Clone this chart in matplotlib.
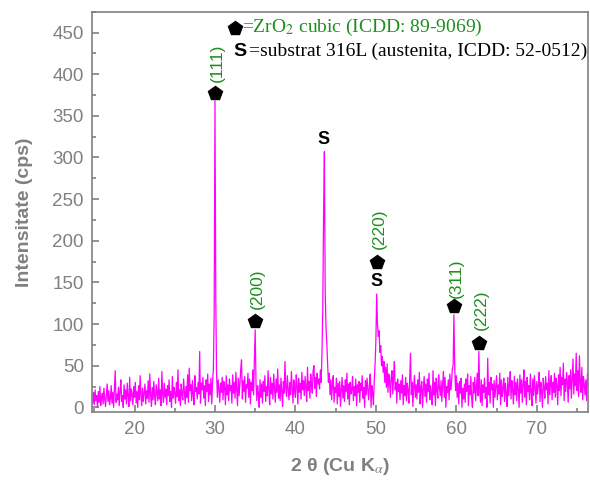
import numpy as np
import matplotlib.pyplot as plt
from matplotlib.ticker import MultipleLocator

plt.rcParams['font.family'] = ['Liberation Sans', 'DejaVu Sans']
plt.rcParams['mathtext.fontset'] = 'stix'

# difractograma: pas 0.1 grade, de la 14.8 la 76.4
start_2theta = 14.8
step_2theta = 0.1
counts = [
    5, 18,
    3, 21, 8, 14, 0, 19, 6, 25, 2, 12,          # 15
    17, 4, 23, 9, 1, 15, 28, 7, 20, 3,          # 16
    11, 26, 5, 18, 0, 22, 44, 6, 16, 9,         # 17
    24, 2, 19, 33, 7, 14, 0, 27, 10, 21,        # 18
    4, 29, 13, 1, 36, 8, 22, 16, 3, 25,         # 19
    12, 30, 5, 19, 0, 26, 9, 38, 14, 2,         # 20
    23, 7, 17, 28, 4, 20, 11, 32, 6, 40,        # 21
    15, 1, 24, 9, 31, 13, 3, 27, 18, 8,         # 22
    35, 10, 21, 2, 43, 16, 6, 29, 12, 22,       # 23
    3, 26, 14, 33, 7, 19, 0, 37, 11, 24,        # 24
    17, 5, 30, 13, 45, 8, 21, 2, 28, 15,        # 25
    9, 34, 18, 4, 25, 12, 39, 6, 47, 20,        # 26
    27, 8, 32, 14, 3, 38, 19, 24, 10, 30,       # 27
    16, 67, 5, 29, 21, 36, 11, 26, 2, 33,       # 28
    19, 40, 7, 28, 15, 35, 4, 31, 45, 110,      # 29
    368, 130, 40, 12, 33, 21, 6, 29, 18, 36,    # 30
    9, 31, 24, 3, 38, 15, 27, 8, 34, 20,        # 31
    26, 5, 39, 17, 30, 11, 42, 22, 2, 35,       # 32
    14, 28, 46, 57, 10, 32, 19, 37, 6, 27,      # 33
    23, 41, 12, 34, 4, 30, 20, 45, 15, 58,      # 34
    93, 30, 8, 26, 17, 0, 33, 12, 28, 5,        # 35
    31, 19, 38, 7, 25, 14, 44, 21, 3, 36,       # 36
    16, 29, 10, 40, 22, 6, 34, 18, 46, 11,      # 37
    27, 8, 35, 20, 1, 31, 17, 55, 24, 13,       # 38
    38, 22, 9, 30, 15, 43, 25, 5, 33, 19,       # 39
    12, 39, 26, 4, 35, 18, 29, 10, 42, 21,      # 40
    32, 14, 37, 24, 7, 48, 20, 31, 11, 40,      # 41
    26, 17, 44, 50, 23, 36, 13, 41, 28, 34,     # 42
    22, 45, 30, 65, 120, 233, 307, 140, 95, 78, # 43
    52, 30, 41, 15, 33, 9, 27, 38, 6, 24,       # 44
    18, 35, 4, 29, 13, 31, 1, 22, 36, 11,       # 45
    26, 7, 33, 19, 41, 10, 28, 3, 30, 16,       # 46
    21, 37, 8, 25, 14, 34, 2, 27, 18, 31,       # 47
    6, 29, 20, 38, 11, 24, 0, 32, 15, 35,       # 48
    22, 9, 28, 40, 0, 26, 17, 3, 33, 52,        # 49
    80, 136, 100, 85, 92, 66, 74, 50, 61, 42,   # 50
    55, 30, 48, 24, 52, 18, 40, 33, 12, 36,     # 51
    44, 16, 38, 55, 21, 30, 5, 34, 19, 28,      # 52
    9, 32, 17, 39, 3, 26, 14, 36, 8, 29,        # 53
    21, 5, 35, 65, 15, 30, 1, 25, 38, 12,       # 54
    27, 10, 33, 18, 42, 4, 24, 31, 0, 22,       # 55
    37, 13, 28, 6, 34, 19, 41, 9, 26, 16,       # 56
    3, 44, 15, 30, 2, 35, 20, 11, 39, 24,       # 57
    14, 32, 7, 28, 43, 12, 36, 0, 25, 18,       # 58
    33, 9, 40, 21, 30, 46, 50, 111, 48, 20,     # 59
    38, 12, 29, 4, 31, 17, 35, 0, 23, 10,       # 60
    28, 6, 34, 19, 40, 2, 26, 15, 37, 11,       # 61
    0, 30, 17, 36, 8, 25, 41, 14, 67, 22,       # 62
    6, 33, 2, 27, 18, 35, 11, 24, 0, 59,        # 63
    15, 30, 5, 36, 21, 28, 0, 32, 12, 25,       # 64
    38, 9, 27, 16, 41, 3, 33, 13, 23, 35,       # 65
    7, 29, 18, 1, 36, 14, 26, 43, 10, 32,       # 66
    20, 4, 37, 15, 30, 8, 34, 22, 0, 39,        # 67
    17, 33, 6, 28, 45, 12, 31, 3, 36, 19,       # 68
    26, 9, 40, 18, 2, 34, 14, 38, 23, 5,        # 69
    31, 16, 27, 42, 7, 30, 20, 0, 35, 24,       # 70
    11, 37, 21, 29, 4, 44, 15, 28, 38, 9,       # 71
    30, 18, 41, 12, 35, 25, 3, 39, 20, 48,      # 72
    14, 36, 27, 53, 8, 34, 19, 42, 29, 6,       # 73
    38, 22, 45, 11, 33, 58, 16, 40, 26, 65,     # 74
    20, 44, 13, 62, 31, 18, 48, 9, 37, 28,      # 75
    15, 33, 8, 41, 22,                          # 76
]

# pozitii reflexii ZrO2 cubic
zro2_pos = [30.0, 34.97, 50.1, 59.73, 62.84]
zro2_marker_y = [377, 104, 175, 122, 77]
zro2_hkl = ['(111)', '(200)', '(220)', '(311)', '(222)']
zro2_label_y = [414, 142, 215, 155, 117]

# substrat 316L
subst_pos = [43.55, 50.1]
subst_y = [322, 151]

two_theta = start_2theta + step_2theta * np.arange(len(counts))

grey = '#808080'
green = '#1f8f1f'

fig = plt.figure(figsize=(5.9, 4.8), dpi=100)
ax = fig.add_axes([0.1564, 0.141, 0.8407, 0.8346])

ax.plot(two_theta, counts, color='#ff00ff', lw=0.9)

ax.plot(zro2_pos, zro2_marker_y, 'p', color='black', ms=10, ls='none')
for x, y, t in zip(zro2_pos, zro2_label_y, zro2_hkl):
    ax.text(x + 0.3, y, t, rotation=90, ha='center', va='center',
            color=green, fontsize=12.5)
for x, y in zip(subst_pos, subst_y):
    ax.text(x, y, 'S', ha='center', va='center', fontsize=13,
            fontweight='bold', color='black')

# legenda
ax.plot([32.5], [456], 'p', color='black', ms=10)
ax.text(33.4, 456, '=ZrO$_2$ cubic (ICDD: 89-9069)', color=green,
        fontsize=14, family='Liberation Serif', va='center', ha='left')
ax.text(33.1, 427, 'S', fontsize=14, fontweight='bold', ha='center', va='center')
ax.text(34.2, 427, '=substrat 316L (austenita, ICDD: 52-0512)',
        fontsize=14, family='Liberation Serif', va='center', ha='left')

ax.set_xlim(14.75, 76.4)
ax.set_ylim(-6, 475)
ax.xaxis.set_major_locator(MultipleLocator(10))
ax.xaxis.set_minor_locator(MultipleLocator(5))
ax.yaxis.set_major_locator(MultipleLocator(50))
ax.yaxis.set_minor_locator(MultipleLocator(25))
ax.tick_params(which='both', direction='in', colors=grey, labelsize=13.5,
               width=1.2, pad=6)
ax.tick_params(which='major', length=5)
ax.tick_params(which='minor', length=3)
for s in ax.spines.values():
    s.set_color(grey)
    s.set_linewidth(1.2)

ax.set_ylabel('Intensitate (cps)', fontsize=14, fontweight='bold', color=grey,
              labelpad=14)
ax.set_xlabel(r'2 θ (Cu K$_{\alpha}$)', fontsize=14, fontweight='bold',
              color=grey, labelpad=13)

fig.savefig('out.png', dpi=100)
